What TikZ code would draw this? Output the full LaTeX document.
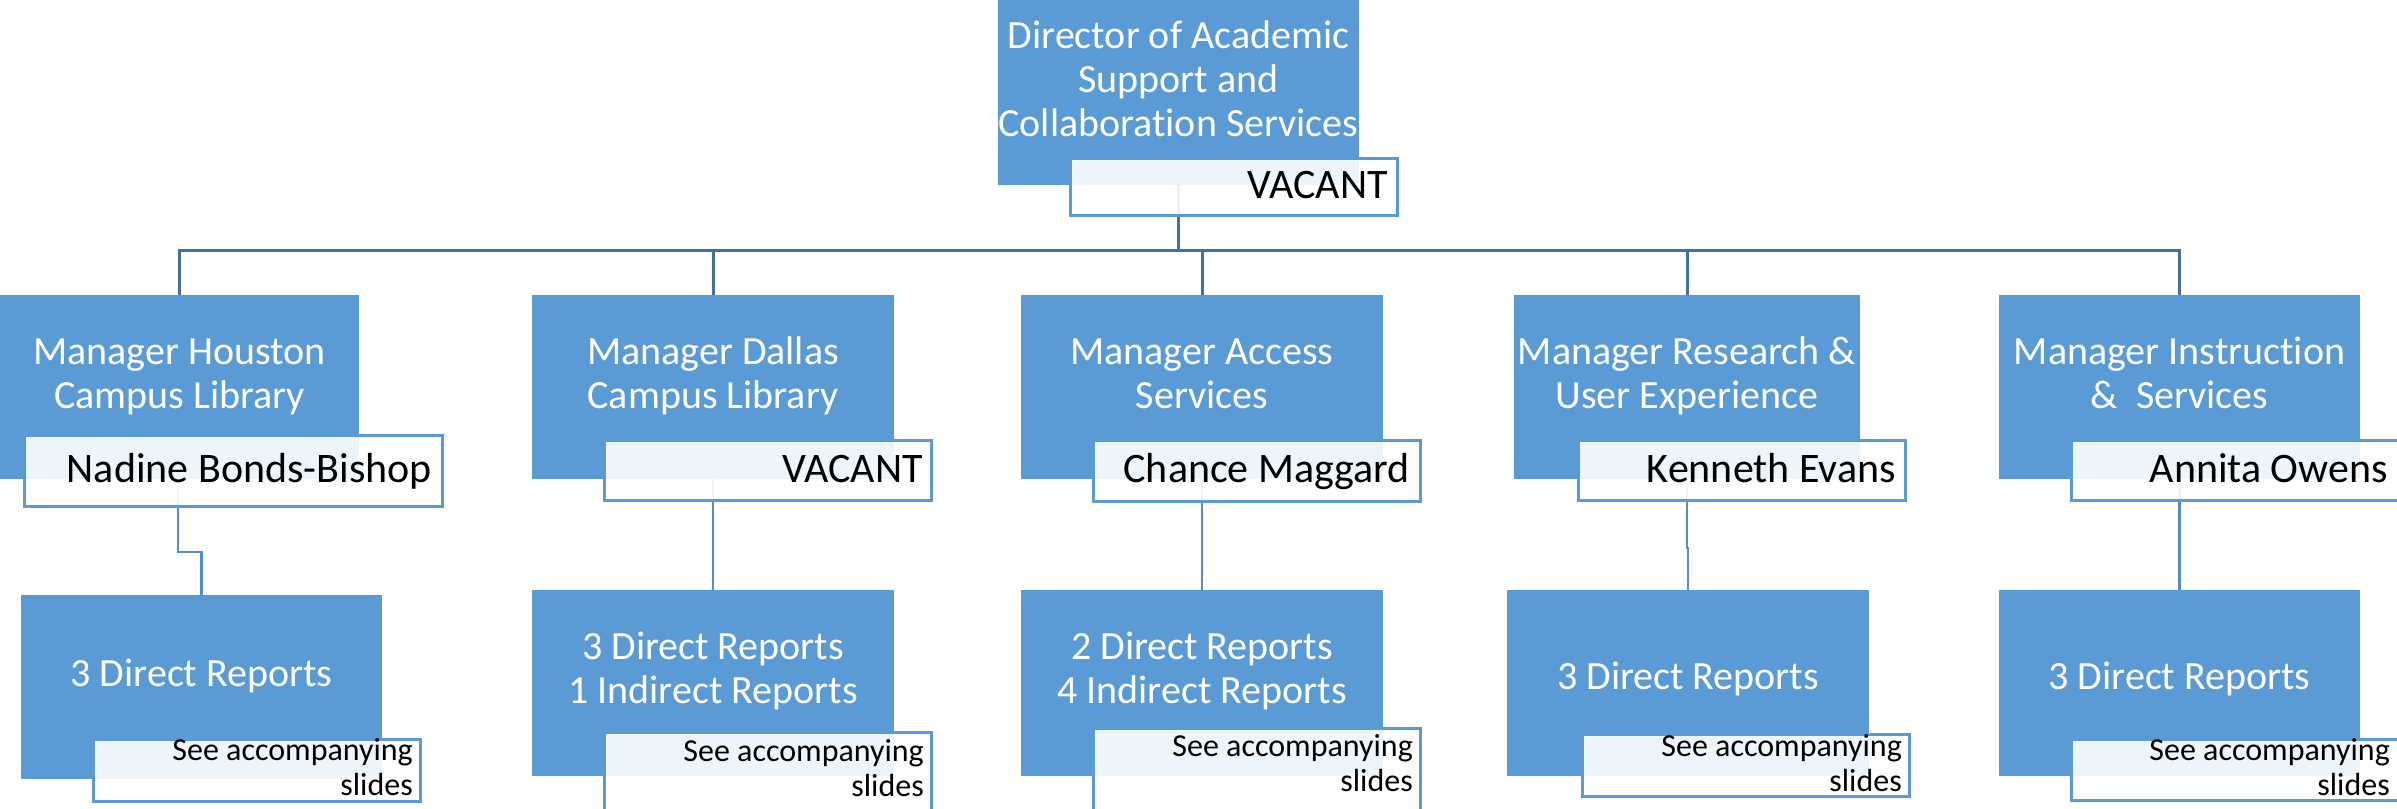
\documentclass[tikz,border=0pt]{standalone}
\usepackage{fontspec}
\setmainfont{Carlito}[Ligatures=NoCommon]
\definecolor{boxblue}{RGB}{91,155,213}
\definecolor{linedark}{RGB}{65,113,156}
\definecolor{linelight}{RGB}{84,141,201}
\begin{document}
\begin{tikzpicture}[x=1pt,y=-1pt,
  boxA/.style={fill=boxblue, draw=none, inner sep=0pt, outer sep=0pt, anchor=north west},
  namebox/.style={fill=white, fill opacity=0.9, draw=boxblue, line width=3pt, inner sep=0pt, outer sep=0pt, anchor=north west},
  ttl/.style={text=white, font=\fontsize{40}{44}\selectfont, align=center, inner sep=0pt, anchor=base},
  nm/.style={text=black, font=\fontsize{42}{50}\selectfont, inner sep=0pt, anchor=base east},
  note/.style={text=black, font=\fontsize{32}{35}\selectfont, align=right, inner sep=0pt, anchor=base east},
  topline/.style={draw=linedark, line width=3pt},
  subline/.style={draw=linelight, line width=2.5pt}]
\useasboundingbox (0,0) rectangle (2397,808);
\fill[white] (0,0) rectangle (2397,808);

% ---- boxes (geometry first, used by connectors) ----
\path
  node[boxA, minimum width=361pt, minimum height=195pt] (dir) at (998,-10) {}
  node[boxA, minimum width=359pt, minimum height=184pt] (m1) at (0,295) {}
  node[boxA, minimum width=362pt, minimum height=184pt] (m2) at (532,295) {}
  node[boxA, minimum width=362pt, minimum height=184pt] (m3) at (1021,295) {}
  node[boxA, minimum width=346pt, minimum height=184pt] (m4) at (1514,295) {}
  node[boxA, minimum width=361pt, minimum height=184pt] (m5) at (1999,295) {}
  node[boxA, minimum width=361pt, minimum height=184pt] (d1) at (21,595) {}
  node[boxA, minimum width=362pt, minimum height=186pt] (d2) at (532,590) {}
  node[boxA, minimum width=362pt, minimum height=186pt] (d3) at (1021,590) {}
  node[boxA, minimum width=362pt, minimum height=186pt] (d4) at (1507,590) {}
  node[boxA, minimum width=361pt, minimum height=186pt] (d5) at (1999,590) {};

% ---- connectors ----
\coordinate (bus) at (1178.5,250);
\draw[topline] (dir.south) -- (bus);
\draw[topline] (m1.north) -- (m1.north |- bus) -- (m5.north |- bus) -- (m5.north);
\draw[topline] (m2.north) -- (m2.north |- bus);
\draw[topline] (m3.north) -- (m3.north |- bus);
\draw[topline] (m4.north) -- (m4.north |- bus);

\draw[subline] (m1.south) ++(-1.5,0) -- ++(0,73) -| (d1.north);
\draw[subline] (m2.south) -- (d2.north);
\draw[subline] (m3.south) -- (d3.north);
\draw[subline] (m4.south) -- ++(0,69) -| (d4.north);
\draw[subline] (m5.south) -- (d5.north);

% ---- name boxes ----
\node[namebox, minimum width=327pt, minimum height=57pt] (dirN) at (1070,158) {};
\node[namebox, minimum width=418pt, minimum height=71pt] (m1N) at (24,435) {};
\node[namebox, minimum width=327pt, minimum height=60pt] (m2N) at (604,440) {};
\node[namebox, minimum width=327pt, minimum height=61pt] (m3N) at (1093,440) {};
\node[namebox, minimum width=327pt, minimum height=60pt] (m4N) at (1578,440) {};
\node[namebox, minimum width=340pt, minimum height=60pt] (m5N) at (2071,440) {};

\node[namebox, minimum width=327pt, minimum height=62pt] (d1N) at (93,739) {};
\node[namebox, minimum width=327pt, minimum height=90pt] (d2N) at (604,732) {};
\node[namebox, minimum width=327pt, minimum height=90pt] (d3N) at (1093,728) {};
\node[namebox, minimum width=327pt, minimum height=62pt] (d4N) at (1582,734) {};
\node[namebox, minimum width=340pt, minimum height=61pt] (d5N) at (2071,739) {};

% ---- texts (anchor base = baseline of last line) ----
\node[ttl] (dirT) at (1178.5,136) {Director of Academic\\Support and\\Collaboration Services};
\node[ttl] (m1T) at (179.5,408) {Manager Houston\\Campus Library};
\node[ttl] (m2T) at (713,408) {Manager Dallas\\Campus Library};
\node[ttl] (m3T) at (1202,408) {Manager Access\\Services};
\node[ttl] (m4T) at (1687,408) {Manager Research \&\\User Experience};
\node[ttl] (m5T) at (2179.5,408) {Manager Instruction\\\&~~Services};

\node[nm] (dirV) at (1388,198) {VACANT};
\node[nm] (m1V) at (432,482) {Nadine Bonds-Bishop};
\node[nm] (m2V) at (923,482) {VACANT};
\node[nm] (m3V) at (1410,482) {Chance Maggard};
\node[nm] (m4V) at (1896,482) {Kenneth Evans};
\node[nm] (m5V) at (2388,482) {Annita Owens};

\node[ttl] (d1T) at (201.5,686) {3 Direct Reports};
\node[ttl] (d2T) at (713,703) {3 Direct Reports\\1 Indirect Reports};
\node[ttl] (d3T) at (1202,703) {2 Direct Reports\\4 Indirect Reports};
\node[ttl] (d4T) at (1688,689) {3 Direct Reports};
\node[ttl] (d5T) at (2179.5,689) {3 Direct Reports};

\node[note] (d1S) at (413,795) {See accompanying\\slides};
\node[note] (d2S) at (924,796) {See accompanying\\slides};
\node[note] (d3S) at (1413,791) {See accompanying\\slides};
\node[note] (d4S) at (1902,791) {See accompanying\\slides};
\node[note] (d5S) at (2390,795) {See accompanying\\slides};
\end{tikzpicture}
\end{document}
